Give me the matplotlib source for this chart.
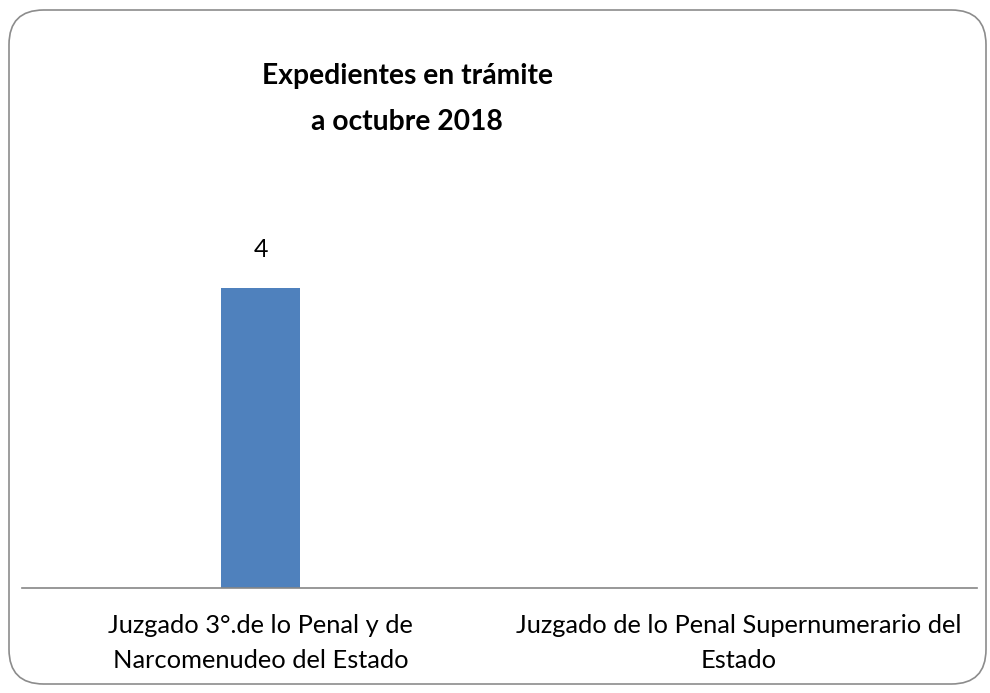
import matplotlib
matplotlib.use("Agg")
import matplotlib.pyplot as plt
from matplotlib.patches import FancyBboxPatch

categories = ["Juzgado 3°.de lo Penal y de\nNarcomenudeo del Estado",
              "Juzgado de lo Penal Supernumerario del\nEstado"]
values = [4, 0]
value_labels = ["4", ""]
title = "Expedientes en trámite\na octubre 2018"

plt.rcParams['font.family'] = ['Lato', 'DejaVu Sans']

W, H = 990, 693
fig = plt.figure(figsize=(W/100, H/100), dpi=100)
fig.patch.set_facecolor("white")

# rounded border
border = FancyBboxPatch((9/W, 9/H), (986-9)/W, (683-9)/H,
                        boxstyle="round,pad=0,rounding_size=0.035",
                        transform=fig.transFigure, facecolor="white",
                        edgecolor="#8c8c8c", linewidth=1.2, mutation_aspect=W/H,
                        zorder=-10)
fig.patches.append(border)

ax_left, ax_right = 22, 977
ax_bottom, ax_top = 588, 213
ax = fig.add_axes([ax_left/W, 1 - ax_bottom/H, (ax_right-ax_left)/W, (ax_bottom-ax_top)/H])
ax.set_zorder(5)
ax.set_facecolor("none")
x = list(range(len(categories)))
bars = ax.bar(x, values, width=0.165, color="#4f81bd")
ax.set_xlim(-0.5, len(categories) - 0.5)
ax.set_ylim(0, 5)
for xi, v, lab in zip(x, values, value_labels):
    if lab:
        ax.text(xi, v + 0.41, lab, ha="center", va="baseline", fontsize=18,
                color="#000000")
for s in ["top", "right", "left"]:
    ax.spines[s].set_visible(False)
ax.spines["bottom"].set_color("#868686")
ax.spines["bottom"].set_linewidth(1.2)
ax.set_yticks([])
ax.set_xticks(x)
ax.set_xticklabels(categories, fontsize=18.3, linespacing=1.62)
ax.tick_params(axis="x", length=0, pad=19)

t = fig.text(407/W, 1 - 99/H, title, ha="center", va="center", fontsize=20.3,
             fontweight="bold", linespacing=1.95)
t.set_zorder(6)

fig.savefig("out.png", dpi=100)
